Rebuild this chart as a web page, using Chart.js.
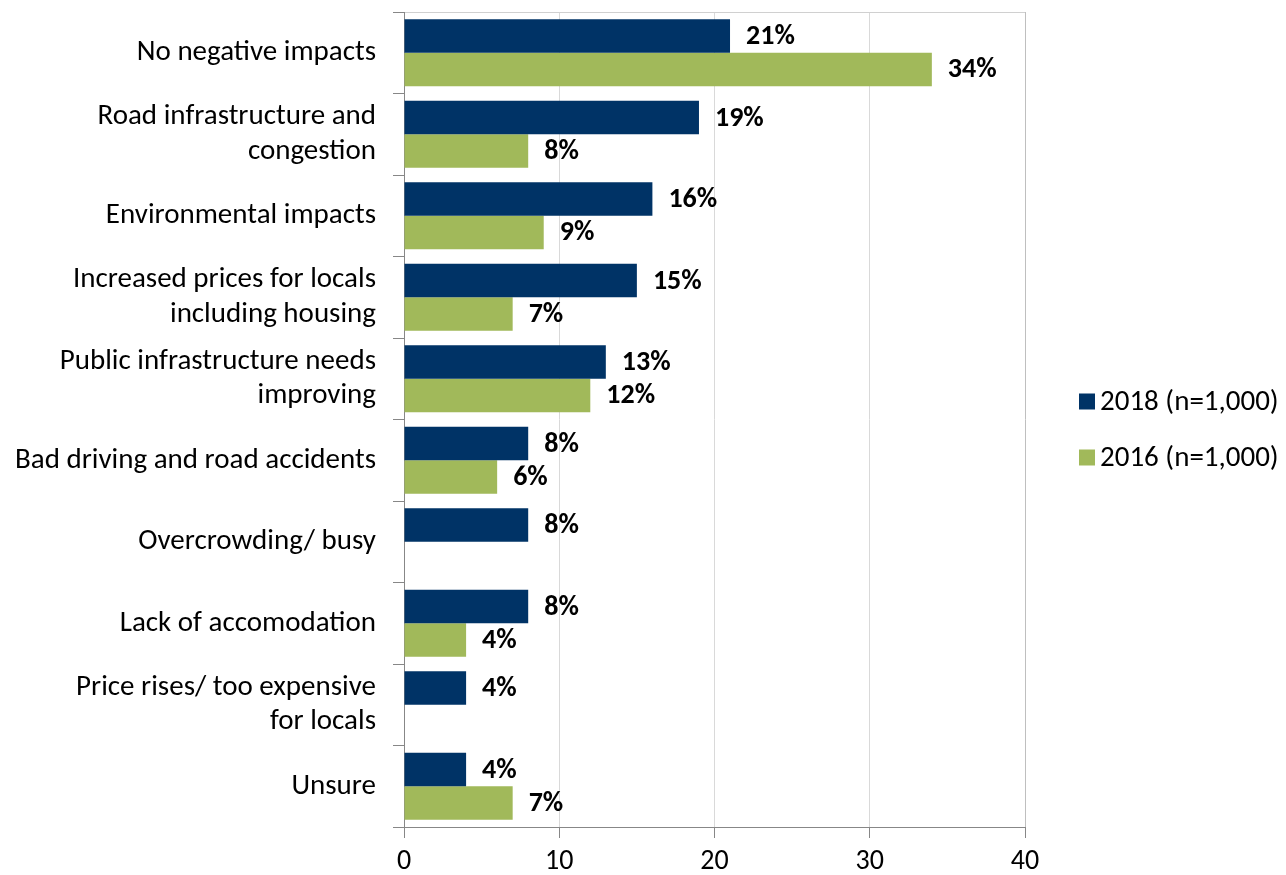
<!DOCTYPE html>
<html>
<head>
<meta charset="utf-8">
<script src="https://cdn.jsdelivr.net/npm/chart.js@4.4.1/dist/chart.umd.min.js"></script>
<style>
  html, body { margin: 0; padding: 0; background: #fff; }
</style>
</head>
<body>
<canvas id="impactsChart" width="1286" height="875"></canvas>
<script>
const categories = [
  'No negative impacts',
  ['Road infrastructure and', 'congestion'],
  'Environmental impacts',
  ['Increased prices for locals', 'including housing'],
  ['Public infrastructure needs', 'improving'],
  'Bad driving and road accidents',
  'Overcrowding/ busy',
  'Lack of accomodation',
  ['Price rises/ too expensive', 'for locals'],
  'Unsure'
];
const values2018 = [21, 19, 16, 15, 13, 8, 8, 8, 4, 4];
const values2016 = [34, 8, 9, 7, 12, 6, null, 4, null, 7];
const seriesNames = ['2018 (n=1,000)', '2016 (n=1,000)'];
const xMin = 0, xMax = 40, xStep = 10;

const FONT = 'Carlito, Lato, sans-serif';
const NAVY = '#003366';
const GREEN = '#A1B95A';

// percentage labels at the end of each bar
const valueLabels = {
  id: 'valueLabels',
  afterDatasetsDraw(chart) {
    const ctx = chart.ctx;
    ctx.save();
    ctx.font = 'bold 28px ' + FONT;
    ctx.fillStyle = '#000';
    ctx.textBaseline = 'middle';
    chart.data.datasets.forEach((ds, i) => {
      chart.getDatasetMeta(i).data.forEach((bar, j) => {
        const v = ds.data[j];
        if (v == null) return;
        ctx.fillText(v + '%', bar.x + 16, bar.y + 1);
      });
    });
    ctx.restore();
  }
};

// legend drawn to the right of the plot, vertically centred
const sideLegend = {
  id: 'sideLegend',
  afterDraw(chart) {
    const ctx = chart.ctx;
    const area = chart.chartArea;
    const left = area.right + 54;
    const mid = (area.top + area.bottom) / 2 + 10;
    const gap = 56;
    ctx.save();
    ctx.font = '29px ' + FONT;
    ctx.textBaseline = 'middle';
    chart.data.datasets.forEach((ds, i) => {
      const y = mid - gap / 2 + i * gap;
      ctx.fillStyle = ds.backgroundColor;
      ctx.fillRect(left, y - 8, 16, 16);
      ctx.fillStyle = '#000';
      ctx.fillText(ds.label, left + 21, y + 1);
    });
    ctx.restore();
  }
};

new Chart(document.getElementById('impactsChart'), {
  type: 'bar',
  data: {
    labels: categories,
    datasets: [
      { label: seriesNames[0], data: values2018, backgroundColor: NAVY },
      { label: seriesNames[1], data: values2016, backgroundColor: GREEN }
    ]
  },
  options: {
    indexAxis: 'y',
    responsive: false,
    devicePixelRatio: 1,
    animation: false,
    datasets: {
      bar: { categoryPercentage: 0.82, barPercentage: 1.0 }
    },
    layout: { padding: { top: 12, right: 261, left: 0, bottom: 0 } },
    plugins: {
      legend: { display: false },
      tooltip: { enabled: false }
    },
    scales: {
      x: {
        min: xMin,
        max: xMax,
        ticks: {
          stepSize: xStep,
          color: '#000',
          font: { family: FONT, size: 28 },
          padding: 7,
          maxRotation: 0
        },
        grid: {
          color: c => (c.tick && c.tick.value === xMax) ? '#bfbfbf' : '#d9d9d9',
          tickColor: '#878787',
          tickLength: 11
        },
        border: { color: '#878787' },
        afterFit: s => { s.height = 48; }
      },
      y: {
        ticks: {
          color: '#000',
          font: { family: FONT, size: 29, lineHeight: 1.2 },
          padding: 17
        },
        grid: {
          offset: true,
          color: c => c.index === 0 ? '#d0d0d0' : 'rgba(0,0,0,0)',
          tickColor: '#878787',
          tickLength: 11
        },
        border: { color: '#878787' },
        afterFit: s => {
          s.width = 404;
          s.paddingTop = 0;
          s.paddingBottom = 0;
        }
      }
    }
  },
  plugins: [valueLabels, sideLegend]
});
</script>
</body>
</html>
